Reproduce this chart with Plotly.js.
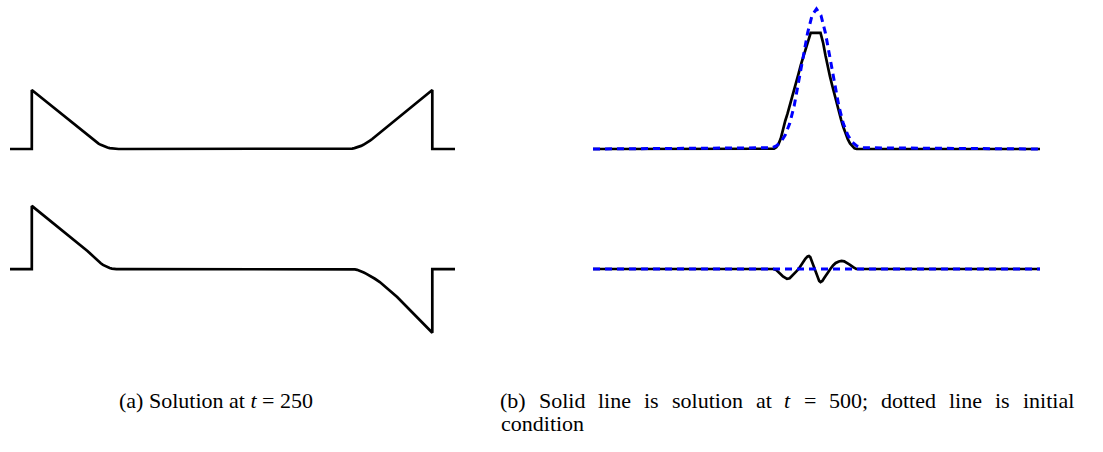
<!DOCTYPE html>
<html>
<head>
<meta charset="utf-8">
<script src="https://cdn.plot.ly/plotly-3.0.1.min.js"></script>
<style>
  html, body { margin: 0; padding: 0; background: #fff; }
</style>
</head>
<body>
<div id="plotly-div" style="width:1103px;height:452px;"></div>
<script>
// (a) solution at t = 250, first component (top) and second component (bottom)
var leftTopX = [0, 4.9, 4.9, 8.9, 12.9, 14.9, 15.9, 16.9, 17.4, 17.9, 18.4, 18.9, 19.4, 19.9, 20.4, 20.9, 21.4, 21.9, 22.4, 22.9, 23.4, 23.9, 24.4, 26,
                75.4, 75.9, 76.4, 76.9, 77.4, 77.9, 78.4, 78.9, 79.4, 79.9, 80.4, 80.9, 81.4, 81.9, 82.4, 82.9, 83.9, 85.9, 90.9, 94.9, 94.9, 100];
var leftTopV = [0, 0, 1.0, 0.754, 0.508, 0.385, 0.324, 0.262, 0.232, 0.200, 0.170, 0.141, 0.115, 0.092, 0.071, 0.053, 0.037, 0.025, 0.015, 0.008, 0.003, 0.001, 0, 0,
                0, 0.001, 0.003, 0.008, 0.015, 0.025, 0.037, 0.053, 0.071, 0.092, 0.115, 0.141, 0.170, 0.200, 0.232, 0.262, 0.324, 0.446, 0.754, 1.0, 0, 0];

var leftBotX = [0, 4.9, 4.9, 8.9, 12.9, 14.9, 15.9, 16.9, 17.4, 17.9, 18.4, 18.9, 19.4, 19.9, 20.4, 20.9, 21.4, 21.9, 22.4, 22.9, 23.4, 23.9, 26,
                76.4, 77.0, 77.5, 78.0, 78.5, 79.0, 79.5, 80.0, 80.5, 81.0, 82.0, 83.1, 85.0, 87.0, 94.9, 94.9, 100];
var leftBotV = [0, 0, 1.07, 0.83, 0.59, 0.47, 0.405, 0.34, 0.305, 0.27, 0.232, 0.195, 0.16, 0.127, 0.097, 0.07, 0.048, 0.03, 0.017, 0.008, 0.003, 0, 0,
                0, -0.002, -0.006, -0.013, -0.025, -0.04, -0.058, -0.078, -0.098, -0.12, -0.165, -0.22, -0.343, -0.475, -1.08, 0, 0];

// (b) solution at t = 500 (solid) and initial condition (dotted)
var rightTopX = [0, 40.0, 40.5, 41.0, 41.5, 42.0, 42.5, 43.0, 43.5, 44.0, 44.5, 45.0, 45.5, 46.0, 46.5, 47.0, 47.5, 48.0, 48.5, 48.7,
                 50.9, 51.2, 51.5, 52.0, 52.5, 53.0, 53.5, 54.0, 54.5, 55.0, 55.5, 56.0, 56.5, 57.0, 57.5, 58.0, 58.5, 59.0, 60.0, 100];
var rightTopV = [0, 0, 0.002, 0.012, 0.035, 0.075, 0.145, 0.20, 0.25, 0.305, 0.36, 0.42, 0.48, 0.54, 0.60, 0.655, 0.71, 0.765, 0.815, 0.829,
                 0.829, 0.80, 0.755, 0.67, 0.586, 0.52, 0.455, 0.39, 0.33, 0.265, 0.21, 0.157, 0.11, 0.07, 0.04, 0.018, 0.005, 0, 0, 0];

var initTopX = [0, 40, 41, 42, 43, 44, 45, 46, 47, 48, 49, 50, 51, 52, 53, 54, 55, 56, 57, 58, 59, 60, 100];
var initTopV = [0, 0.009, 0.022, 0.049, 0.099, 0.182, 0.307, 0.469, 0.654, 0.828, 0.954, 1.0,
                0.954, 0.828, 0.654, 0.469, 0.307, 0.182, 0.099, 0.049, 0.022, 0.009, 0];

var rightBotX = [0, 40.4, 41.0, 41.5, 42.0, 42.5, 43.0, 43.4, 44.0, 44.5, 45.0, 45.5, 46.0, 46.5, 47.0, 47.5, 48.0, 48.3, 48.6,
                 50.6, 50.9, 51.3, 51.8, 52.4, 53.1, 53.7, 54.3, 55.0, 55.6, 56.2, 56.8, 57.5, 58.2, 58.9, 100];
var rightBotV = [0, 0, -0.008, -0.02, -0.037, -0.053, -0.065, -0.07, -0.066, -0.052, -0.035, -0.017, 0, 0.025, 0.05, 0.073, 0.09, 0.093, 0.085,
                 -0.085, -0.093, -0.085, -0.06, -0.03, 0, 0.025, 0.043, 0.054, 0.058, 0.055, 0.045, 0.03, 0.013, 0, 0];

var initBotX = [0, 100];
var initBotV = [0, 0];

// caption words, (b) is justified over one line then wraps
var capA = '(a) Solution at <i>t</i> = 250';
var capBLine1 = ['(b)', 'Solid', 'line', 'is', 'solution', 'at', '<i>t</i>', '=', '500;', 'dotted', 'line', 'is', 'initial'];
var capBLine2 = 'condition';

var black = 'rgb(0, 0, 0)';
var blue = 'rgb(0, 0, 255)';

function solid (x, v, xa, ya) {
  return {x: x, y: v, xaxis: xa, yaxis: ya, mode: 'lines', hoverinfo: 'skip',
          line: {color: black, width: 2.7}};
}
function dotted (x, v, xa, ya) {
  return {x: x, y: v, xaxis: xa, yaxis: ya, mode: 'lines', hoverinfo: 'skip',
          line: {color: blue, width: 3, dash: '7px,5px'}};
}

var data = [
  solid(leftTopX, leftTopV, 'x', 'y'),
  solid(leftBotX, leftBotV, 'x', 'y2'),
  solid(rightTopX, rightTopV, 'x2', 'y3'),
  dotted(initTopX, initTopV, 'x2', 'y3'),
  solid(rightBotX, rightBotV, 'x2', 'y4'),
  dotted(initBotX, initBotV, 'x2', 'y4')
];

var W = 1103, H = 452;
var fontFamily = 'Liberation Serif';
var fontSize = 22;
var capFont = {family: fontFamily + ', DejaVu Serif, serif', size: fontSize, color: '#000'};

// measure words so line 1 of caption (b) can be spread from 499 to 1073 px
var ctx = document.createElement('canvas').getContext('2d');
function wordWidth (w) {
  var italic = w.indexOf('<i>') >= 0;
  ctx.font = (italic ? 'italic ' : '') + fontSize + 'px "' + fontFamily + '"';
  return ctx.measureText(w.replace(/<\/?i>/g, '')).width;
}
var bLeft = 499, bRight = 1073;
var widths = capBLine1.map(wordWidth);
var total = widths.reduce(function (s, w) { return s + w; }, 0);
var gap = (bRight - bLeft - total) / (capBLine1.length - 1);

var annotations = [
  {text: capA, xref: 'paper', yref: 'paper', x: 216 / W, y: 1 - 400 / H,
   xanchor: 'center', yanchor: 'middle', showarrow: false, font: capFont},
  {text: capBLine2, xref: 'paper', yref: 'paper', x: bLeft / W, y: 1 - 423 / H,
   xanchor: 'left', yanchor: 'middle', showarrow: false, font: capFont}
];
var pos = bLeft;
for (var i = 0; i < capBLine1.length; i++) {
  annotations.push({text: capBLine1[i], xref: 'paper', yref: 'paper', x: pos / W, y: 1 - 400 / H,
    xanchor: 'left', yanchor: 'middle', showarrow: false, font: capFont, borderpad: 0});
  pos += widths[i] + gap;
}

var hidden = {visible: false, fixedrange: true};
var topRow = [0.5796, 1];
var botRow = [0.2035, 0.5796];

var layout = {
  width: W,
  height: H,
  margin: {l: 0, r: 0, t: 0, b: 0, pad: 0},
  paper_bgcolor: '#fff',
  plot_bgcolor: 'rgba(0,0,0,0)',
  showlegend: false,
  xaxis:  Object.assign({domain: [0.00907, 0.41251], range: [0, 100], anchor: 'y'}, hidden),
  xaxis2: Object.assign({domain: [0.53763, 0.94288], range: [0, 100], anchor: 'y3'}, hidden),
  yaxis:  Object.assign({domain: topRow, range: [-0.695, 2.525], anchor: 'x'}, hidden),
  yaxis2: Object.assign({domain: botRow, range: [-1.542, 1.339], anchor: 'x'}, hidden),
  yaxis3: Object.assign({domain: topRow, range: [-0.293, 1.064], anchor: 'x2'}, hidden),
  yaxis4: Object.assign({domain: botRow, range: [-0.65, 0.564], anchor: 'x2'}, hidden),
  annotations: annotations
};

Plotly.newPlot('plotly-div', data, layout, {staticPlot: true, displayModeBar: false});
</script>
</body>
</html>
